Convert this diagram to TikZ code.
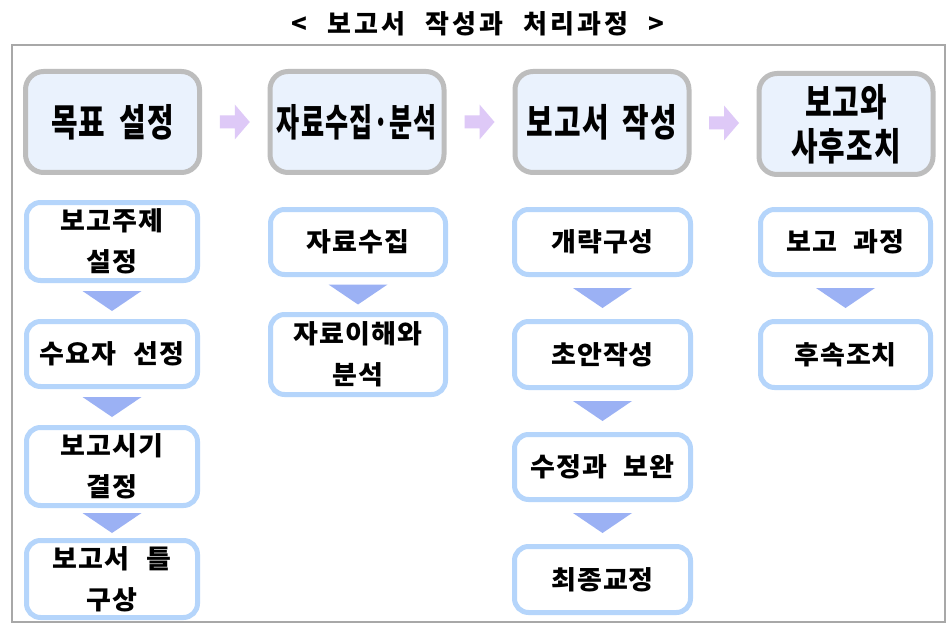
\documentclass[tikz,border=0pt]{standalone}
\usepackage{fontspec}
\usepackage{graphicx}
\usetikzlibrary{calc}
\newfontfamily\krtitle{Noto Sans CJK KR}[FakeStretch=1.0,LetterSpace=12,WordSpace=2.2]
\newfontfamily\krhead{Noto Sans CJK KR}[FakeStretch=0.76,LetterSpace=3,WordSpace=1.8]
\newfontfamily\krsub{Noto Sans CJK KR}[FakeStretch=1.04,LetterSpace=4,WordSpace=2.3]
\definecolor{hdborder}{HTML}{BDBDBD}
\definecolor{hdfill}{HTML}{EAF2FD}
\definecolor{subborder}{HTML}{B5D5FB}
\definecolor{tricol}{HTML}{9BB1F4}
\definecolor{arrcol}{HTML}{DEC9F7}
\definecolor{framecol}{HTML}{A8A8A8}
\tikzset{
  headbox/.style={draw=hdborder, fill=hdfill, line width=5pt, rounded corners=18pt,
    minimum width=174pt, minimum height=101pt, align=center, inner sep=0pt,
    font=\krhead\bfseries\fontsize{38}{44}\selectfont},
  subbox/.style={draw=subborder, fill=white, line width=5pt, rounded corners=14pt,
    align=center, inner sep=0pt, font=\krsub\bfseries\fontsize{26}{41}\selectfont},
  tristyle/.style={fill=tricol},
  arrstyle/.style={fill=arrcol},
  framestyle/.style={draw=framecol, line width=1.2pt}
}
\newcommand\downtri[2]{\fill[tristyle] ($(#1.south)!0.5!(#2.north)$) ++(-29.5,-10) -- ++(59,0) -- ++(-29.5,20) -- cycle;}
\newcommand\rightarr[2]{\fill[arrstyle] ($(#1.east)!0.5!(#2.west)$) ++(-15,-6.5) -- ++(15,0) -- ++(0,-11) -- ++(15,17.5) -- ++(-15,17.5) -- ++(0,-11) -- ++(-15,0) -- cycle;}
\begin{document}
\begin{tikzpicture}[x=1pt,y=-1pt]
\useasboundingbox[fill=white] (0,0) rectangle (952,631);
\node (title) at (478,24) {\krtitle\bfseries\fontsize{26}{28}\selectfont < 보고서 작성과 처리과정 >};
\draw[framestyle] (12,45) rectangle (945,622);

\node[headbox] (t1) at (112.5,122) {목표 설정};
\node[headbox] (t2) at (357,122) {\resizebox{160pt}{\height}{자료수집·분석}};
\node[headbox] (t3) at (602,122) {보고서 작성};
\node[headbox] (t4) at (846,124) {보고와\\사후조치};
\rightarr{t1}{t2}
\rightarr{t2}{t3}
\rightarr{t3}{t4}

\node[subbox, minimum width=171pt, minimum height=78pt] (a1) at (112,241.5) {보고주제\\설정};
\node[subbox, minimum width=171pt, minimum height=65pt] (a2) at (112,354) {수요자 선정};
\node[subbox, minimum width=171pt, minimum height=78pt] (a3) at (112,466.5) {보고시기\\결정};
\node[subbox, minimum width=171pt, minimum height=77pt] (a4) at (112,579) {보고서 틀\\구상};
\downtri{a1}{a2}
\downtri{a2}{a3}
\downtri{a3}{a4}

\node[subbox, minimum width=175pt, minimum height=65pt] (b1) at (358,242) {자료수집};
\node[subbox, minimum width=175pt, minimum height=80pt] (b2) at (358,354.5) {자료이해와\\분석};
\downtri{b1}{b2}

\node[subbox, minimum width=176pt, minimum height=65pt] (c1) at (602.5,242) {개략구성};
\node[subbox, minimum width=176pt, minimum height=66pt] (c2) at (602.5,354.5) {초안작성};
\node[subbox, minimum width=176pt, minimum height=65pt] (c3) at (602.5,467) {수정과 보완};
\node[subbox, minimum width=176pt, minimum height=66pt] (c4) at (602.5,579.5) {최종교정};
\downtri{c1}{c2}
\downtri{c2}{c3}
\downtri{c3}{c4}

\node[subbox, minimum width=170pt, minimum height=65pt] (d1) at (845.5,242) {보고 과정};
\node[subbox, minimum width=170pt, minimum height=66pt] (d2) at (845.5,354.5) {후속조치};
\downtri{d1}{d2}
\end{tikzpicture}
\end{document}
